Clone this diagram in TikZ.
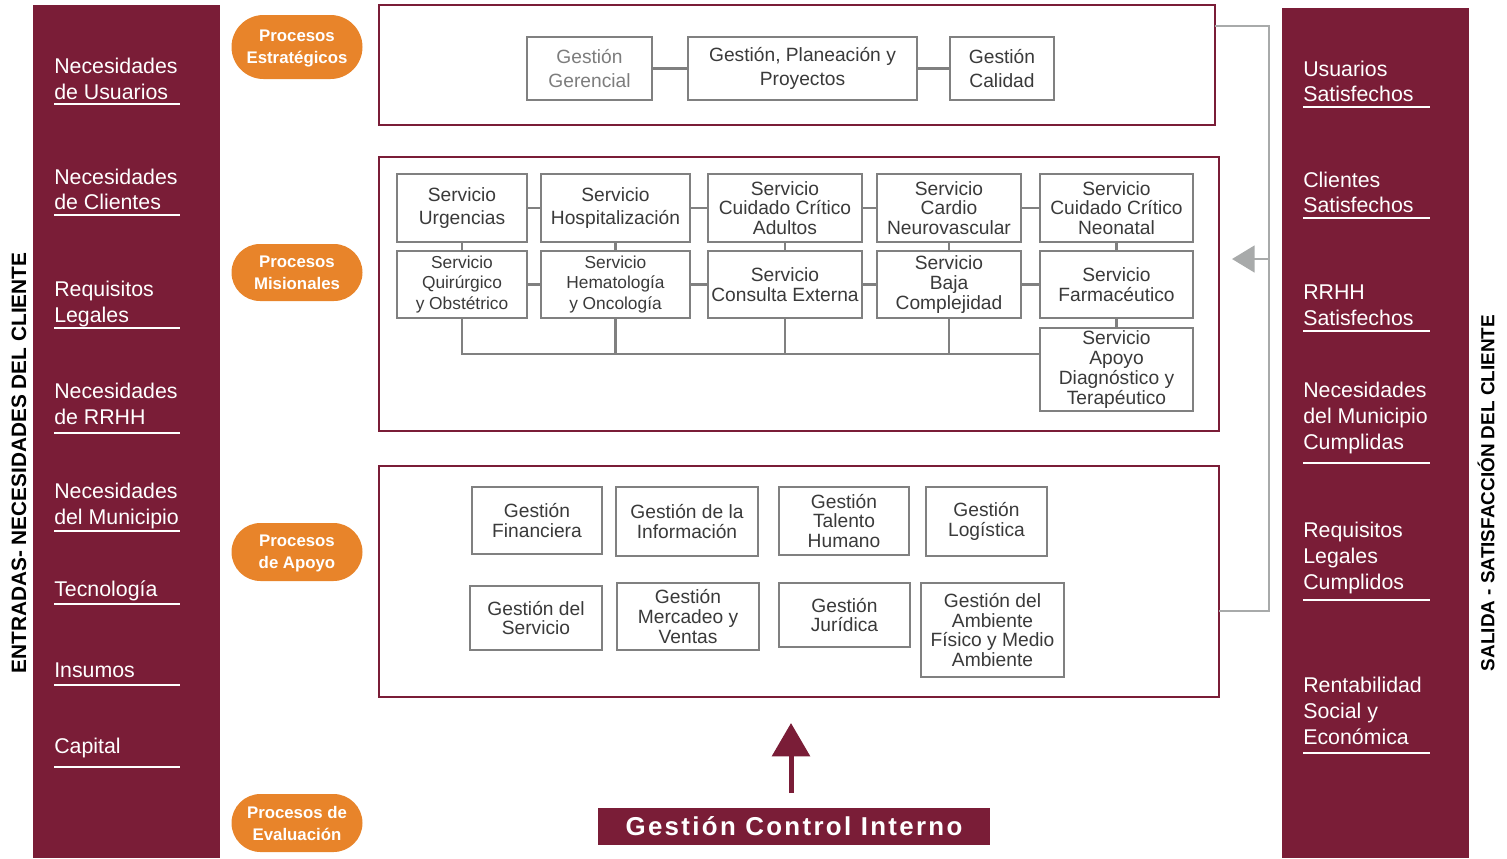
\documentclass[tikz,border=0pt]{standalone}
\usepackage{fontspec}
\setmainfont{Liberation Sans}
\newfontfamily\spacedfont[LetterSpace=9]{Liberation Sans}
\usetikzlibrary{arrows.meta,shapes.misc}
\definecolor{wine}{RGB}{122,29,55}
\definecolor{orng}{RGB}{232,132,42}
\definecolor{bxgray}{RGB}{128,128,128}
\definecolor{txgray}{RGB}{58,58,58}
\definecolor{ltgray}{RGB}{125,125,125}
\definecolor{cngray}{RGB}{168,170,170}
\tikzset{
  gbox/.style={draw=bxgray, line width=2.2pt, fill=white, inner sep=0pt, outer sep=0pt,
    align=center, text=txgray, font=\fontsize{14.4}{17.5}\selectfont},
  tight/.style={font=\fontsize{14.4}{14.8}\selectfont},
  small/.style={font=\fontsize{13}{15.4}\selectfont},
  pbox/.style={draw=wine, line width=1.6pt, inner sep=0pt, outer sep=0pt},
  pill/.style={rounded rectangle, fill=orng, text=white, align=center, inner sep=0pt,
    font=\bfseries\fontsize{12.6}{16.5}\selectfont, minimum width=131*0.75pt, text depth=0pt},
  side/.style={text=white, align=left, anchor=west, inner sep=0pt,
    font=\fontsize{16}{19.3}\selectfont},
  uline/.style={draw=white, line width=1.5pt},
  conn/.style={draw=bxgray, line width=2.2pt},
  fb/.style={draw=cngray, line width=2.2pt},
  vtext/.style={rotate=90, inner sep=0pt, text=black}
}
\newcommand\gbx[7][]{\node[gbox,#1,minimum width={(#5-#3)*0.75pt},minimum height={(#6-#4)*0.75pt}] (#2) at ({(#3+#5)/2},{(#4+#6)/2}) {#7};}
\newcommand\pbx[5]{\node[pbox,minimum width={(#4-#2)*0.75pt},minimum height={(#5-#3)*0.75pt}] (#1) at ({(#2+#4)/2},{(#3+#5)/2}) {};}
\begin{document}
\begin{tikzpicture}[x=0.75pt,y=-0.75pt]
\useasboundingbox (0,0) rectangle (1507,858);
% side bars
\fill[wine] (33,5) rectangle (220,858);
\fill[wine] (1282,8) rectangle (1469,858);
\node[vtext, font=\bfseries\fontsize{15.6}{18}\selectfont] (ent) at (19,463) {ENTRADAS- NECESIDADES DEL CLIENTE};
\node[vtext, font=\bfseries\fontsize{14.2}{18}\selectfont] (sal) at (1486,493) {SALIDA - SATISFACCIÓN DEL CLIENTE};
% left items
\node[side] (l1) at (54,79) {Necesidades\\de Usuarios};
\node[side] (l2) at (54,189.5) {Necesidades\\de Clientes};
\node[side] (l3) at (54,304) {Requisitos\\Legales};
\node[side] (l4) at (54,404) {Necesidades\\de RRHH};
\node[side] (l5) at (54,506) {Necesidades\\del Municipio};
\node[side] (l6) at (54,591) {Tecnología};
\node[side] (l7) at (54,670) {Insumos};
\node[side] (l8) at (54,748) {Capital};
\foreach \yy in {104,215,328,433,531,604,685,767} {\draw[uline] (54,\yy) -- (180,\yy);}
% right items
\node[side] (r1) at (1303,81.5) {Usuarios\\Satisfechos};
\node[side] (r2) at (1303,192.5) {Clientes\\Satisfechos};
\node[side] (r3) at (1303,305) {RRHH\\Satisfechos};
\node[side] (r4) at (1303,418) {Necesidades\\del Municipio\\Cumplidas};
\node[side] (r5) at (1303,558) {Requisitos\\Legales\\Cumplidos};
\node[side] (r6) at (1303,711) {Rentabilidad\\Social y\\Económica};
\foreach \yy in {107,218,331,463,600,753} {\draw[uline] (1303,\yy) -- (1430,\yy);}
% pills
\node[pill, minimum height=64*0.75pt] (p1) at (297,47) {Procesos\\Estratégicos};
\node[pill, minimum height=57*0.75pt] (p2) at (297,272.5) {Procesos\\Misionales};
\node[pill, minimum height=58*0.75pt] (p3) at (297,552) {Procesos\\de Apoyo};
\node[pill, minimum height=58*0.75pt] (p4) at (297,823) {Procesos de\\Evaluación};
% containers
\pbx{estr}{379}{5}{1215}{125}
\pbx{mis}{379}{157}{1219}{431}
\pbx{apoy}{379}{466}{1219}{697}
% strategic
\gbx[text=ltgray]{gg}{527}{37}{652}{100}{Gestión\\Gerencial}
\gbx{gp}{688}{37}{917}{100}{Gestión, Planeación y\\Proyectos}
\gbx{gc}{950}{37}{1054}{100}{Gestión\\Calidad}
\draw[conn] (gg) -- (gp);
\draw[conn] (gp) -- (gc);
% misional
\gbx{urg}{397}{174}{527}{242}{Servicio\\Urgencias}
\gbx{hos}{541}{174}{690}{242}{Servicio\\Hospitalización}
\gbx[tight]{cca}{708}{174}{862}{242}{Servicio\\Cuidado Crítico\\Adultos}
\gbx[tight]{car}{877}{174}{1021}{242}{Servicio\\Cardio\\Neurovascular}
\gbx[tight]{ccn}{1040}{174}{1193}{242}{Servicio\\Cuidado Crítico\\Neonatal}
\gbx[small]{qui}{397}{251}{527}{318}{Servicio\\Quirúrgico\\y Obstétrico}
\gbx[small]{hem}{541}{251}{690}{318}{Servicio\\Hematología\\y Oncología}
\gbx[tight]{cex}{708}{251}{862}{318}{Servicio\\Consulta Externa}
\gbx[tight]{baj}{877}{251}{1021}{318}{Servicio\\Baja\\Complejidad}
\gbx[tight]{far}{1040}{251}{1193}{318}{Servicio\\Farmacéutico}
\gbx[tight]{apo}{1040}{328}{1193}{411}{Servicio\\Apoyo\\Diagnóstico y\\Terapéutico}
\draw[conn] (urg) -- (hos);
\draw[conn] (hos) -- (cca);
\draw[conn] (cca) -- (car);
\draw[conn] (car) -- (ccn);
\draw[conn] (qui) -- (hem);
\draw[conn] (hem) -- (cex);
\draw[conn] (cex) -- (baj);
\draw[conn] (baj) -- (far);
\draw[conn] (urg) -- (qui);
\draw[conn] (hos) -- (hem);
\draw[conn] (cca) -- (cex);
\draw[conn] (car) -- (baj);
\draw[conn] (ccn) -- (far);
\draw[conn] (far) -- (apo);
\coordinate (bus) at (0,354);
\draw[conn] (qui.south) -- (qui.south |- bus) -- (bus -| apo.west);
\draw[conn] (hem.south) -- (hem.south |- bus);
\draw[conn] (cex.south) -- (cex.south |- bus);
\draw[conn] (baj.south) -- (baj.south |- bus);
% apoyo
\gbx[tight]{fin}{472}{487}{602}{554}{Gestión\\Financiera}
\gbx[tight]{inf}{616}{487}{758}{556}{Gestión de la\\Información}
\gbx[tight]{tal}{779}{487}{909}{555}{Gestión\\Talento\\Humano}
\gbx[tight]{log}{926}{487}{1047}{556}{Gestión\\Logística}
\gbx[tight]{ser}{470}{586}{602}{650}{Gestión del\\Servicio}
\gbx[tight]{mer}{617}{583}{759}{650}{Gestión\\Mercadeo y\\Ventas}
\gbx[tight]{jur}{779}{583}{910}{647}{Gestión\\Jurídica}
\gbx[tight]{amb}{921}{583}{1064}{677}{Gestión del\\Ambiente\\Físico y Medio\\Ambiente}
% feedback connector
\coordinate (fbT) at (1269,26);
\coordinate (fbB) at (1269,611);
\coordinate (fbA) at (1269,259);
\coordinate (fbTip) at (1232,259);
\draw[fb] (estr.east |- fbT) -- (fbT) -- (fbB) -- (apoy.east |- fbB);
\draw[fb, -{Triangle[length=17pt,width=20pt]}] (fbA) -- (fbTip);
% control interno
\node[fill=wine, text=white, inner sep=0pt, minimum width=392*0.75pt, minimum height=37*0.75pt,
  font=\spacedfont\bfseries\fontsize{19.4}{22}\selectfont] (gci) at (794,826.5) {Gestión Control Interno};
\coordinate (upS) at (791,793);
\coordinate (upE) at (791,723);
\draw[wine, line width=3.75pt, -{Triangle[length=25pt,width=28pt]}] (upS) -- (upE);
\end{tikzpicture}
\end{document}
